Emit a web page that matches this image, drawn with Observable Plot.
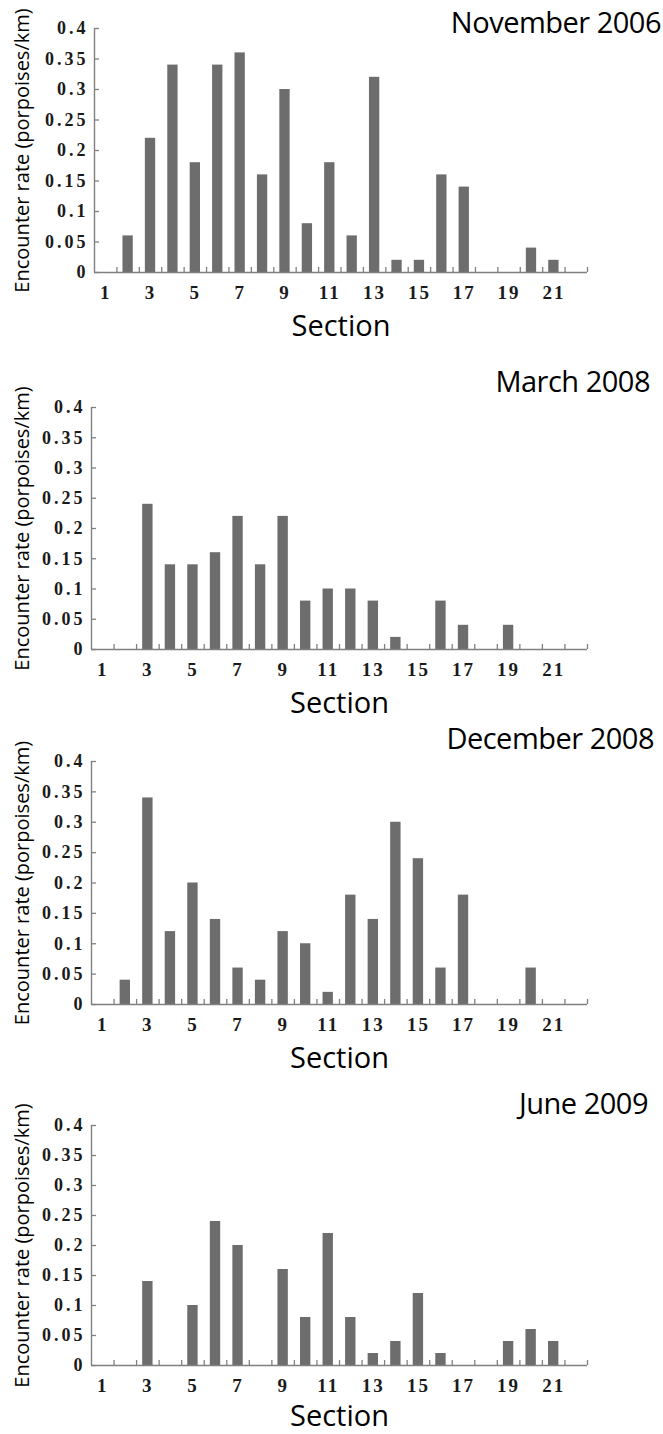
<!DOCTYPE html>
<html>
<head>
<meta charset="utf-8">
<script src="https://cdn.jsdelivr.net/npm/d3@7"></script>
<script src="https://cdn.jsdelivr.net/npm/@observablehq/plot@0.6"></script>
<style>
  body { margin: 0; background: #fff; }
  #root { position: relative; width: 663px; height: 1434px; overflow: hidden; background: #fff; }
  .panel { position: absolute; left: 0; }
  .title { position: absolute; font-family: "Open Sans", sans-serif; font-weight: 500; font-size: 29px; color: #000; white-space: nowrap; line-height: 30px; letter-spacing: -0.5px; }
  .panel svg [aria-label="y-axis tick label"] text { letter-spacing: 3px; }
  .panel svg [aria-label="x-axis tick label"] text { letter-spacing: 2px; }
</style>
</head>
<body>
<div id="root"></div>
<script>
// ---- data ----
const sections = [1, 2, 3, 4, 5, 6, 7, 8, 9, 10, 11, 12, 13, 14, 15, 16, 17, 18, 19, 20, 21, 22];
const xTickLabels = [1, 3, 5, 7, 9, 11, 13, 15, 17, 19, 21];
const yTicks = [0, 0.05, 0.1, 0.15, 0.2, 0.25, 0.3, 0.35, 0.4];

const nov2006 = [0, 0.06, 0.22, 0.34, 0.18, 0.34, 0.36, 0.16, 0.30, 0.08, 0.18, 0.06, 0.32, 0.02, 0.02, 0.16, 0.14, 0, 0, 0.04, 0.02, 0];
const mar2008 = [0, 0, 0.24, 0.14, 0.14, 0.16, 0.22, 0.14, 0.22, 0.08, 0.10, 0.10, 0.08, 0.02, 0, 0.08, 0.04, 0, 0.04, 0, 0, 0];
const dec2008 = [0, 0.04, 0.34, 0.12, 0.20, 0.14, 0.06, 0.04, 0.12, 0.10, 0.02, 0.18, 0.14, 0.30, 0.24, 0.06, 0.18, 0, 0, 0.06, 0, 0];
const jun2009 = [0, 0, 0.14, 0, 0.10, 0.24, 0.20, 0, 0.16, 0.08, 0.22, 0.08, 0.02, 0.04, 0.12, 0.02, 0, 0, 0.04, 0.06, 0.04, 0];

const panelTitles = ["November 2006", "March 2008", "December 2008", "June 2009"];
const panelSeries = [nov2006, mar2008, dec2008, jun2009];
const yLabel = "Encounter rate (porpoises/km)";
const xLabel = "Section";

// ---- layout (pixels) ----
const frames = [
  {top: 28, bottom: 272, left: 94, right: 587, titleMid: 22, titleRight: 2, secDy: 54},
  {top: 407, bottom: 649, left: 91, right: 587, titleMid: 381, titleRight: 13, secDy: 54},
  {top: 761, bottom: 1004, left: 91, right: 587, titleMid: 738, titleRight: 9, secDy: 54},
  {top: 1125, bottom: 1365, left: 91, right: 587, titleMid: 1103, titleRight: 15, secDy: 51}
];

const root = document.getElementById("root");
const barColor = "#6d6d6d";
const axisColor = "#808080";
const mt = 40, mb = 80;

panelSeries.forEach((series, i) => {
  const f = frames[i];
  const H = f.bottom - f.top;
  const W = f.right - f.left;
  const rows = sections.map((s, j) => ({section: s, value: series[j]}));
  const boundaries = sections.map(s => s + 0.5);

  const plot = Plot.plot({
    width: 663,
    height: mt + H + mb,
    marginTop: mt,
    marginBottom: mb,
    marginLeft: f.left,
    marginRight: 663 - f.right,
    x: {type: "linear", domain: [0.5, 22.5]},
    y: {domain: [0, 0.4]},
    style: {background: "transparent", overflow: "visible"},
    marks: [
      Plot.rect(rows.filter(d => d.value > 0), {
        x1: d => d.section - 0.23,
        x2: d => d.section + 0.23,
        y1: 0,
        y2: "value",
        fill: barColor
      }),
      // axis lines
      Plot.ruleY([0], {x1: 0.5, x2: 22.5, stroke: axisColor, strokeWidth: 1.4}),
      Plot.ruleX([0.5], {y1: 0, y2: 0.4, stroke: axisColor, strokeWidth: 1.4}),
      // inward ticks
      Plot.tickX(boundaries, {x: d => d, insetTop: H - 5, stroke: axisColor, strokeWidth: 1.3}),
      Plot.tickY(yTicks, {y: d => d, insetRight: W - 5, stroke: axisColor, strokeWidth: 1.3}),
      // axes
      Plot.axisY(yTicks, {
        tickSize: 0,
        tickPadding: 6,
        tickFormat: d => String(+d.toFixed(2)),
        fontFamily: "Liberation Serif",
        fontWeight: "bold",
        fontSize: 18,
        fill: "#1a1a1a",
        label: null
      }),
      Plot.axisX(xTickLabels, {
        tickSize: 0,
        tickPadding: 13,
        tickFormat: d => String(d),
        fontFamily: "Liberation Serif",
        fontWeight: "bold",
        fontSize: 19,
        fill: "#1a1a1a",
        label: null
      }),
      // axis titles
      Plot.text([yLabel], {
        frameAnchor: "left",
        textAnchor: "middle",
        rotate: -90,
        dx: 22 - f.left,
        fontFamily: "Open Sans",
        fontSize: 20,
        fill: "#000"
      }),
      Plot.text([xLabel], {
        frameAnchor: "bottom",
        dy: f.secDy,
        lineAnchor: "middle",
        fontFamily: "Open Sans",
        fontWeight: 500,
        fontSize: 29,
        fill: "#000"
      })
    ]
  });

  const wrap = document.createElement("div");
  wrap.className = "panel";
  wrap.style.top = (f.top - mt) + "px";
  wrap.appendChild(plot);
  root.appendChild(wrap);

  const t = document.createElement("div");
  t.className = "title";
  t.textContent = panelTitles[i];
  t.style.right = f.titleRight + "px";
  t.style.top = (f.titleMid - 15) + "px";
  root.appendChild(t);
});
</script>
</body>
</html>
